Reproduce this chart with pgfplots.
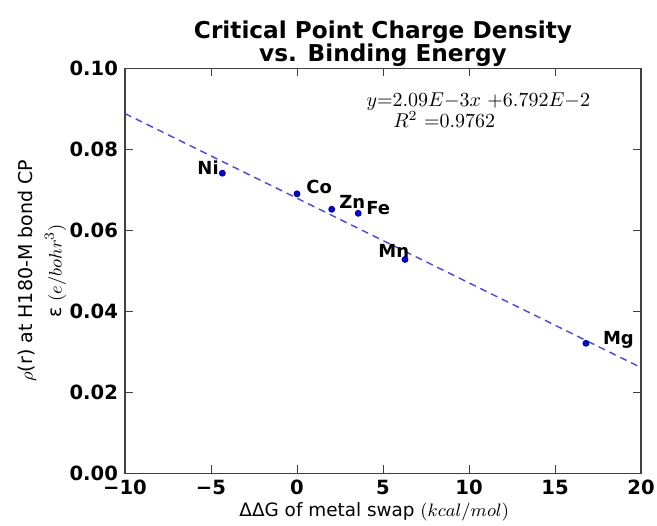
\documentclass[border=0pt]{standalone}
\usepackage{pgfplots}
\pgfplotsset{compat=1.18}
\usepackage{fontspec}
\setmainfont{DejaVu Sans}
\definecolor{fitblue}{RGB}{68,68,255}
\begin{document}
\begin{tikzpicture}
\path[use as bounding box] (-62.5pt,-25.85pt) rectangle (266pt,236.65pt);
\begin{axis}[
  name=ax, at={(0,0)}, anchor=south west,
  scale only axis, width=258pt, height=202.5pt,
  xmin=-10, xmax=20, ymin=0, ymax=0.1,
  xtick={-10,-5,0,5,10,15,20},
  xticklabels={−10,−5,0,5,10,15,20},
  ytick={0,0.02,0.04,0.06,0.08,0.1},
  scaled y ticks=false,
  yticklabel style={/pgf/number format/.cd, fixed, fixed zerofill, precision=2},
  /pgf/number format/assume math mode=true,
  tick label style={font=\fontsize{9.8}{10}\selectfont\bfseries},
  tick align=inside, major tick length=4pt,
  axis line style={black!75, line width=0.6pt},
  tick style={black!75, line width=0.5pt},
  title={Critical Point Charge Density\\vs. Binding Energy},
  title style={font=\fontsize{11.6}{11.5}\selectfont\bfseries, align=center,
    at={(axis description cs:0.5,1)}, anchor=south, inner sep=0pt, yshift=-5.5pt},
  xlabel={ΔΔG of metal swap $(kcal/mol)$},
  xlabel style={font=\fontsize{9.2}{11}\selectfont, at={(axis description cs:0.483,0)}, anchor=base, inner sep=0pt, yshift=-21.8pt},
  ylabel={$\rho$(r) at H180-M bond CP\\ε $(e/bohr^3)$},
  ylabel style={font=\fontsize{9.5}{14.5}\selectfont, align=center, rotate=0,
    at={(axis description cs:-0.1134,0.5)}, anchor=south, inner sep=0pt},
]
\addplot[fitblue, dash pattern=on 3.5pt off 2.5pt, line width=0.7pt] coordinates {(-10,0.08882) (20,0.02612)};
\addplot[only marks, mark=*, mark size=1.5pt, mark options={fill=blue, draw=blue!55!black}]
  coordinates {(-4.34,0.0741) (0.0,0.0690) (2.02,0.0652) (3.56,0.0642) (6.28,0.0528) (16.80,0.0321)};
\begin{scope}[every node/.style={font=\fontsize{9}{10}\selectfont\bfseries, anchor=base west, inner sep=0pt}]
\node at (axis cs:-5.81,0.0739) {Ni};
\node at (axis cs:0.52,0.0692) {Co};
\node at (axis cs:2.44,0.0655) {Zn};
\node at (axis cs:4.01,0.0640) {Fe};
\node at (axis cs:4.71,0.0534) {Mn};
\node at (axis cs:17.77,0.0317) {Mg};
\end{scope}
\node[anchor=base west, inner sep=0pt, font=\fontsize{10}{11}\selectfont] at (axis cs:4.02,0.0906) {$y{=}2.09E{-}3x\ {+}6.792E{-}2$};
\node[anchor=base west, inner sep=0pt, font=\fontsize{10}{11}\selectfont] at (axis cs:5.58,0.0853) {$R^2\ {=}0.9762$};
\end{axis}
\end{tikzpicture}
\end{document}
